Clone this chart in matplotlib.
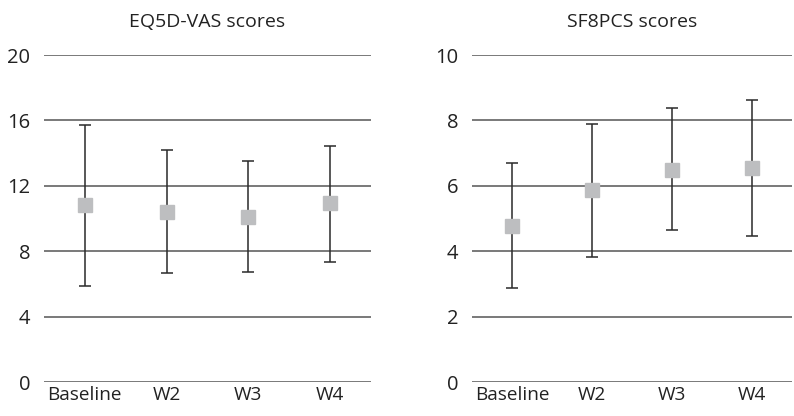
import matplotlib
matplotlib.use("Agg")
import matplotlib.pyplot as plt
import numpy as np

plt.rcParams['font.family'] = ['Open Sans', 'DejaVu Sans']

categories = ["Baseline", "W2", "W3", "W4"]

eq_title = "EQ5D-VAS scores"
eq_mean = [10.85, 10.38, 10.07, 10.97]
eq_upper = [15.72, 14.19, 13.54, 14.45]
eq_lower = [5.89, 6.67, 6.73, 7.36]
eq_ticks = [0, 4, 8, 12, 16, 20]

sf_title = "SF8PCS scores"
sf_mean = [4.77, 5.87, 6.47, 6.56]
sf_upper = [6.70, 7.90, 8.39, 8.61]
sf_lower = [2.87, 3.81, 4.64, 4.46]
sf_ticks = [0, 2, 4, 6, 8, 10]

fig = plt.figure(figsize=(7.94, 4.16), dpi=100)
ax1 = fig.add_axes([0.0554, 0.0817, 0.4118, 0.786])
ax2 = fig.add_axes([0.5945, 0.0817, 0.4030, 0.786])

def draw(ax, title, mean, lower, upper, ticks):
    x = np.arange(len(categories)) + 0.5
    mean = np.array(mean)
    yerr = [mean - np.array(lower), np.array(upper) - mean]
    for t in ticks:
        ax.axhline(t, color='#555555', lw=1.1, zorder=1)
    ax.errorbar(x, mean, yerr=yerr, fmt='none', ecolor='#2a2a2a',
                elinewidth=1.1, capsize=4.3, capthick=1.1, zorder=2)
    ax.plot(x, mean, 's', color='#bdbec0', markersize=9.5, zorder=3)
    ax.set_xlim(0, len(categories))
    ax.set_ylim(ticks[0], ticks[-1])
    ax.set_yticks(ticks)
    ax.set_yticklabels([str(t) for t in ticks], fontsize=14.5, color='#222222')
    ax.set_xticks(x)
    ax.set_xticklabels(categories, fontsize=13.7, color='#222222')
    ax.tick_params(axis='y', length=0, pad=10)
    ax.tick_params(axis='x', length=0, pad=3)
    for s in ax.spines.values():
        s.set_visible(False)
    ax.set_title(title, fontsize=14, color='#222222', pad=20)

draw(ax1, eq_title, eq_mean, eq_lower, eq_upper, eq_ticks)
draw(ax2, sf_title, sf_mean, sf_lower, sf_upper, sf_ticks)

fig.savefig("out.png", dpi=100)
